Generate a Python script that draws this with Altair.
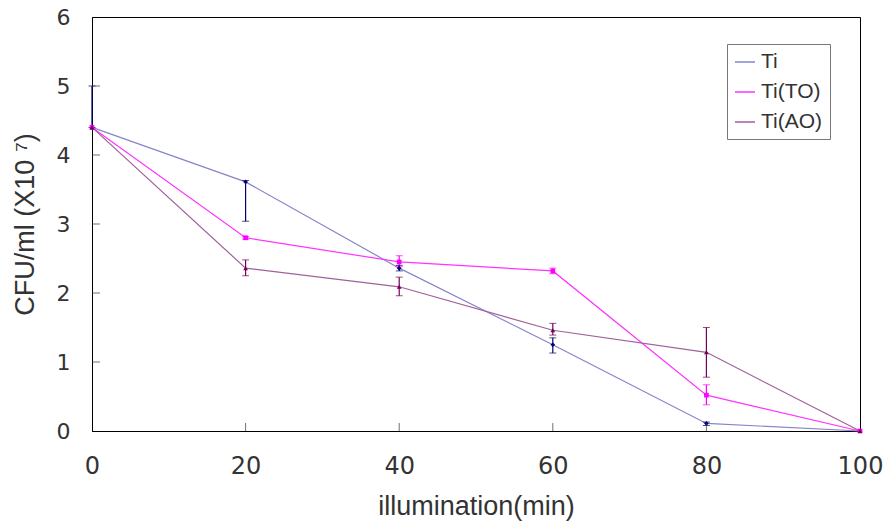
import altair as alt
import pandas as pd

minutes = [0, 20, 40, 60, 80, 100]
series = ["Ti", "Ti(TO)", "Ti(AO)"]

ti = [4.40, 3.61, 2.36, 1.25, 0.11, 0.00]
ti_lo = [4.40, 3.04, 2.32, 1.13, 0.08, 0.00]
ti_hi = [5.00, 3.63, 2.40, 1.35, 0.13, 0.00]

to = [4.40, 2.80, 2.45, 2.32, 0.52, 0.00]
to_lo = [4.40, 2.78, 2.38, 2.28, 0.38, 0.00]
to_hi = [4.40, 2.82, 2.54, 2.36, 0.67, 0.00]

ao = [4.40, 2.36, 2.09, 1.46, 1.14, 0.00]
ao_lo = [4.40, 2.25, 1.96, 1.39, 0.78, 0.00]
ao_hi = [4.40, 2.48, 2.23, 1.56, 1.50, 0.00]

x_ticks = [0, 20, 40, 60, 80, 100]
y_ticks = [0, 1, 2, 3, 4, 5, 6]

line_colors = ["#8585CC", "#FF33FF", "#A0609A"]
mark_colors = ["#000070", "#FF00FF", "#70005A"]
shapes = ["diamond", "square", "triangle-up"]

rows = []
for name, v, lo, hi in [("Ti", ti, ti_lo, ti_hi), ("Ti(TO)", to, to_lo, to_hi), ("Ti(AO)", ao, ao_lo, ao_hi)]:
    for m, a, b, c in zip(minutes, v, lo, hi):
        rows.append({"minute": m, "series": name, "value": a, "lo": b, "hi": c})
df = pd.DataFrame(rows)
err = df[df["hi"] > df["lo"]]

NUM_FONT = "DejaVu Sans"
TITLE_FONT = "Liberation Sans"
LEG_FONT = "Liberation Sans"
TXT = "#333333"

xs = alt.Scale(domain=[0, 100], nice=False)
ys = alt.Scale(domain=[0, 6], nice=False)

x_enc = alt.X("minute:Q", scale=xs, axis=alt.Axis(
    values=x_ticks, format="d", title="illumination(min)", grid=False, tickSize=0,
    labelFlush=False, labelPadding=23, titlePadding=15, labelFontSize=24, titleFontSize=27,
    labelFont=NUM_FONT, titleFont=TITLE_FONT, labelColor=TXT, titleColor=TXT,
    titleFontWeight="normal", domainColor="black"))
y_enc = alt.Y("value:Q", scale=ys, axis=alt.Axis(
    values=y_ticks, format="d", title="CFU/ml (X10 \u2077)", grid=False, tickSize=0,
    labelFlush=False, labelPadding=22, titlePadding=17, labelFontSize=22, titleFontSize=27,
    labelFont=NUM_FONT, titleFont=TITLE_FONT, labelColor=TXT, titleColor=TXT,
    titleFontWeight="normal", domainColor="black"))

line_color = alt.Color("series:N", scale=alt.Scale(domain=series, range=line_colors),
                       sort=series,
                       legend=alt.Legend(title=None, orient="none", legendX=635, legendY=27,
                                         symbolType="stroke", symbolSize=400, symbolStrokeWidth=1.5,
                                         labelFontSize=21, labelFont=LEG_FONT, labelColor=TXT,
                                         strokeColor="#777777", padding=7, rowPadding=9,
                                         labelOffset=5, fillColor="white"))
mark_color = alt.Color("series:N", scale=alt.Scale(domain=series, range=mark_colors), legend=None)

base = alt.Chart(df)
lines = base.mark_line(strokeWidth=1.2).encode(x=x_enc, y=y_enc, color=line_color, detail="series:N")
points = base.mark_point(filled=True, size=22, opacity=1).encode(
    x="minute:Q", y="value:Q", color=mark_color,
    shape=alt.Shape("series:N", scale=alt.Scale(domain=series, range=shapes), legend=None))

eb = alt.Chart(err)
rules = eb.mark_rule(strokeWidth=1.2).encode(x="minute:Q", y="lo:Q", y2="hi:Q", color=mark_color)
cap_lo = eb.mark_tick(orient="horizontal", size=7, thickness=1).encode(x="minute:Q", y="lo:Q", color=mark_color)
cap_hi = eb.mark_tick(orient="horizontal", size=7, thickness=1).encode(x="minute:Q", y="hi:Q", color=mark_color)

tdf_x = pd.DataFrame({"t": x_ticks[1:-1]})
tdf_y = pd.DataFrame({"t": y_ticks[1:-1]})
xt = alt.Chart(tdf_x).mark_tick(orient="vertical", size=8, thickness=1, color="#333333", yOffset=-4).encode(
    x="t:Q", y=alt.datum(0))
yt = alt.Chart(tdf_y).mark_tick(orient="horizontal", size=8, thickness=1, color="#333333", xOffset=4).encode(
    x=alt.datum(0), y="t:Q")

chart = alt.layer(lines, rules, cap_lo, cap_hi, points, xt, yt).resolve_scale(
    color="independent", shape="independent"
).properties(
    width=768, height=414,
    autosize=alt.AutoSizeParams(type="none"),
    padding={"left": 92, "top": 17, "right": 26, "bottom": 99},
    background="white",
).configure_view(stroke="black", strokeWidth=1)

chart.save("out.html", embed_options={"renderer": "svg", "actions": False})
